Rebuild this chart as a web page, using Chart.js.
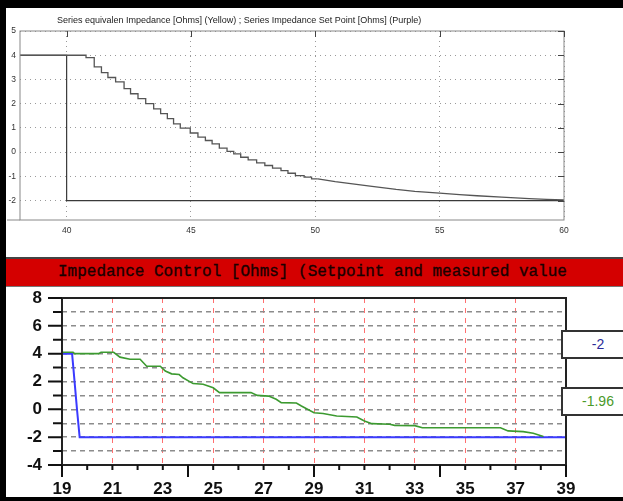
<!DOCTYPE html>
<html>
<head>
<meta charset="utf-8">
<script src="https://cdn.jsdelivr.net/npm/chart.js@4.4.1/dist/chart.umd.min.js"></script>
<style>
    html, body { margin: 0; padding: 0; background: #000; }
    #page { position: relative; width: 623px; height: 501px; background: #000; overflow: hidden; }
    #panel { position: absolute; left: 6px; top: 8px; width: 617px; height: 489px; background: #fff; }
    #topChart { position: absolute; left: 6px; top: 8px; }
    #bottomChart { position: absolute; left: 6px; top: 286px; }
    #redBar {
        position: absolute; left: 6px; top: 257px; width: 615px; height: 27px;
        background: #d40000; border-top: 2px solid #444; border-bottom: 1px solid #777; border-right: 2px solid #333;
        font-family: "Liberation Mono", "DejaVu Sans Mono", monospace; font-size: 16px; line-height: 27px;
        color: #1a0000; -webkit-text-stroke: 0.35px #1a0000;
        padding-left: 52px; box-sizing: content-box; white-space: nowrap;
    }
    .valueBox {
        position: absolute; left: 561px; width: 70px; height: 25px; background: #fff;
        border: 2px solid #333; font-family: "Liberation Sans", Arial, sans-serif; font-size: 14px;
        line-height: 25px; text-align: center;
    }
</style>
</head>
<body>
<div id="page">
    <div id="panel"></div>
    <canvas id="topChart" width="617" height="250"></canvas>
    <div id="redBar">Impedance Control [Ohms] (Setpoint and measured value</div>
    <canvas id="bottomChart" width="617" height="211"></canvas>
    <div class="valueBox" id="boxSet" style="top:330px; color:#2b2b99;">-2</div>
    <div class="valueBox" id="boxMeas" style="top:387px; color:#4a9a2a;">-1.96</div>
</div>
<script>
// ---- top panel (simulation) ----
const topTitle = "Series equivalen Impedance [Ohms] (Yellow) ; Series Impedance Set Point [Ohms] (Purple)";
const topXTicks = [40, 45, 50, 55, 60];
const topYTicks = [-2, -1, 0, 1, 2, 3, 4, 5];

// staircase part: step start (x) -> new value
const topMeasX = [38.125, 40.78, 41.11, 41.40, 41.66, 41.97, 42.31, 42.57, 42.87, 43.18, 43.50, 43.78, 44.05, 44.30,
    44.57, 44.97, 45.28, 45.58, 45.85, 46.14, 46.45, 46.72, 47.00, 47.30, 47.64, 47.97, 48.28, 48.62, 48.90,
    49.20, 49.55, 49.85, 50.10];
const topMeasY = [4.00, 3.90, 3.52, 3.28, 3.08, 2.90, 2.62, 2.41, 2.21, 2.00, 1.79, 1.59, 1.38, 1.17,
    0.99, 0.79, 0.62, 0.48, 0.34, 0.17, 0.03, -0.07, -0.21, -0.32, -0.44, -0.55, -0.66, -0.76, -0.87,
    -0.97, -1.03, -1.10, -1.10];
// tail, where the steps get too small to see
const topTailX = [50.10, 50.80, 51.50, 52.20, 53.25, 54.00, 55.00, 55.80, 56.50, 57.50, 58.60, 59.30, 60.00];
const topTailY = [-1.10, -1.22, -1.31, -1.40, -1.54, -1.62, -1.69, -1.75, -1.80, -1.86, -1.92, -1.95, -1.97];
const topSetX = [38.125, 40, 60];
const topSetY = [4, -2, -2];

// ---- bottom panel (measured) ----
const bottomXLabels = [19, 21, 23, 25, 27, 29, 31, 33, 35, 37, 39];
const bottomYLabels = [-4, -2, 0, 2, 4, 6, 8];

const measuredX = [19.0, 19.44, 19.5, 20.45, 20.55, 21.05, 21.3, 21.7, 22.1, 22.36, 22.9, 23.1, 23.35, 23.65,
    23.8, 24.2, 24.6, 25.0, 25.25, 26.5, 26.75, 27.2, 27.5, 27.7, 28.3, 28.5, 29.0, 29.36, 29.9, 30.7,
    31.0, 31.3, 32.0, 32.2, 33.0, 33.3, 36.4, 36.7, 37.3, 37.7, 38.1];
const measuredY = [4.1, 4.1, 4.0, 4.0, 4.1, 4.1, 3.75, 3.6, 3.6, 3.1, 3.1, 2.75, 2.55, 2.5,
    2.27, 1.85, 1.8, 1.55, 1.2, 1.2, 1.0, 0.95, 0.72, 0.48, 0.45, 0.24, -0.24, -0.3, -0.48, -0.55,
    -0.84, -1.03, -1.07, -1.15, -1.17, -1.32, -1.32, -1.55, -1.6, -1.72, -1.96];
const setpointX = [19.0, 19.4, 19.45, 19.6, 19.7, 39.0];
const setpointY = [4, 4, 3.0, -0.1, -2, -2];

const toPoints = (xs, ys) => xs.map((x, i) => ({ x: x, y: ys[i] }));
const range = (a, b) => { const r = []; for (let v = a; v <= b; v++) r.push(v); return r; };

Chart.defaults.font.family = "'Liberation Sans', Arial, sans-serif";
Chart.defaults.animation = false;

// box around the plot area + small inner ticks
const framePlugin = {
    id: 'frame',
    afterDraw(chart, args, opts) {
        const { ctx, chartArea: a } = chart;
        ctx.save();
        ctx.strokeStyle = opts.color;
        ctx.lineWidth = opts.width;
        ctx.strokeRect(a.left, a.top, a.right - a.left, a.bottom - a.top);
        if (opts.extendLeft) {
            ctx.beginPath();
            ctx.moveTo(a.left - opts.extendLeft, a.bottom);
            ctx.lineTo(a.left, a.bottom);
            ctx.stroke();
        }
        if (opts.innerTicks) {
            ctx.strokeStyle = opts.innerTickColor;
            ctx.beginPath();
            chart.scales.x.ticks.forEach(t => {
                const px = Math.round(chart.scales.x.getPixelForValue(t.value)) + 0.5;
                ctx.moveTo(px, a.top); ctx.lineTo(px, a.top + opts.innerTicks);
            });
            chart.scales.y.ticks.forEach(t => {
                const py = Math.round(chart.scales.y.getPixelForValue(t.value)) + 0.5;
                ctx.moveTo(a.right, py); ctx.lineTo(a.right - opts.innerTicks, py);
            });
            ctx.stroke();
        }
        ctx.restore();
    }
};

// title of the top panel, placed like the original
const topTitlePlugin = {
    id: 'topTitle',
    afterDraw(chart, args, opts) {
        const ctx = chart.ctx;
        ctx.save();
        ctx.font = "9px 'Liberation Sans', Arial, sans-serif";
        ctx.fillStyle = '#222';
        ctx.textBaseline = 'middle';
        ctx.fillText(opts.text, opts.x, opts.y);
        ctx.restore();
    }
};

// long / short tick marks outside the axes of the bottom panel
const tickMarksPlugin = {
    id: 'tickMarks',
    afterDraw(chart) {
        const { ctx, chartArea: a, scales: { x, y } } = chart;
        ctx.save();
        ctx.strokeStyle = '#111';
        ctx.lineWidth = 2;
        ctx.beginPath();
        x.ticks.forEach(t => {
            const px = x.getPixelForValue(t.value);
            const len = (t.value - x.min) % 5 === 0 ? 12 : 5;
            ctx.moveTo(px, a.bottom); ctx.lineTo(px, a.bottom + len);
        });
        y.ticks.forEach(t => {
            const py = y.getPixelForValue(t.value);
            const len = t.value % 2 === 0 ? 14 : 9;
            ctx.moveTo(a.left, py); ctx.lineTo(a.left - len, py);
        });
        ctx.stroke();
        ctx.restore();
    }
};

new Chart(document.getElementById('topChart'), {
    type: 'line',
    data: {
        datasets: [
            {
                label: 'Series equivalent impedance',
                data: toPoints(topMeasX, topMeasY),
                borderColor: '#555',
                borderWidth: 1.3,
                stepped: 'before',
                pointRadius: 0
            },
            {
                label: 'Series equivalent impedance (tail)',
                data: toPoints(topTailX, topTailY),
                borderColor: '#555',
                borderWidth: 1.3,
                pointRadius: 0
            },
            {
                label: 'Set point',
                data: toPoints(topSetX, topSetY),
                borderColor: '#3a3a3a',
                borderWidth: 1.2,
                stepped: 'before',
                pointRadius: 0
            }
        ]
    },
    options: {
        responsive: false,
        layout: { padding: { top: 23, right: 59, left: 0, bottom: 0 } },
        plugins: {
            legend: { display: false },
            tooltip: { enabled: false },
            frame: { color: '#888', width: 1, extendLeft: 13, innerTicks: 6, innerTickColor: '#444' },
            topTitle: { text: topTitle, x: 51, y: 13 }
        },
        scales: {
            x: {
                type: 'linear', min: 38.125, max: 60,
                afterBuildTicks: s => { s.ticks = topXTicks.map(v => ({ value: v })); },
                afterFit: s => { s.height = 38; },
                grid: { color: '#9a9a9a', lineWidth: 1, drawTicks: false },
                border: { display: false, dash: [1, 4] },
                ticks: { color: '#333', font: { size: 8.5 }, padding: 6, maxRotation: 0 }
            },
            y: {
                type: 'linear', min: -2.8, max: 5,
                afterBuildTicks: s => { s.ticks = topYTicks.map(v => ({ value: v })); },
                afterFit: s => { s.width = 14; s.paddingTop = 0; s.paddingBottom = 0; },
                grid: { color: '#9a9a9a', lineWidth: 1, drawTicks: false },
                border: { display: false, dash: [1, 4] },
                ticks: { color: '#333', font: { size: 8.5 }, padding: 4 }
            }
        }
    },
    plugins: [framePlugin, topTitlePlugin]
});

new Chart(document.getElementById('bottomChart'), {
    type: 'line',
    data: {
        datasets: [
            {
                label: 'Measured value',
                data: toPoints(measuredX, measuredY),
                borderColor: '#3c9a30',
                borderWidth: 1.6,
                pointRadius: 0,
                tension: 0
            },
            {
                label: 'Setpoint',
                data: toPoints(setpointX, setpointY),
                borderColor: '#3b3bff',
                borderWidth: 2,
                pointRadius: 0,
                tension: 0
            }
        ]
    },
    options: {
        responsive: false,
        layout: { padding: { top: 12, right: 57, left: 0, bottom: 0 } },
        plugins: {
            legend: { display: false },
            tooltip: { enabled: false },
            frame: { color: '#222', width: 2 }
        },
        scales: {
            x: {
                type: 'linear', min: 19, max: 39,
                afterBuildTicks: s => { s.ticks = range(19, 39).map(v => ({ value: v })); },
                afterFit: s => { s.height = 32; s.paddingLeft = 0; s.paddingRight = 0; },
                grid: {
                    drawTicks: false, lineWidth: 1,
                    color: c => (c.tick && c.tick.value % 2 === 1 && c.tick.value > 19 && c.tick.value < 39) ? '#ff7070' : 'rgba(0,0,0,0)'
                },
                border: { display: false, dash: [5, 5] },
                ticks: {
                    color: '#111', font: { size: 17, weight: 'bold' }, padding: 14, autoSkip: false, maxRotation: 0,
                    callback: v => bottomXLabels.includes(v) ? v : ''
                }
            },
            y: {
                type: 'linear', min: -4, max: 8,
                afterBuildTicks: s => { s.ticks = range(-4, 8).map(v => ({ value: v })); },
                afterFit: s => { s.width = 56; s.paddingTop = 0; s.paddingBottom = 0; },
                grid: {
                    drawTicks: false, lineWidth: 1.5,
                    color: c => (c.tick && c.tick.value > -4 && c.tick.value < 8) ? '#8c8c8c' : 'rgba(0,0,0,0)'
                },
                border: { display: false, dash: [5, 4] },
                ticks: {
                    color: '#111', font: { size: 17, weight: 'bold' }, padding: 20, autoSkip: false,
                    callback: v => bottomYLabels.includes(v) ? v : ''
                }
            }
        }
    },
    plugins: [framePlugin, tickMarksPlugin]
});
</script>
</body>
</html>
